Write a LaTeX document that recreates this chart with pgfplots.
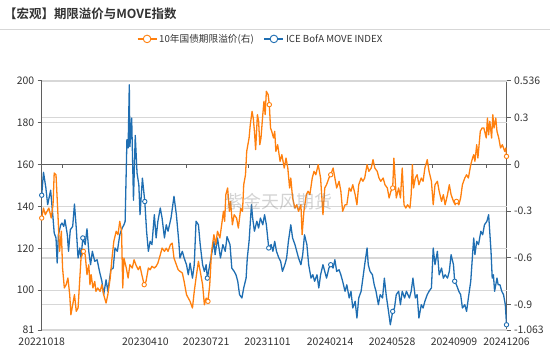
\documentclass[border=0pt]{standalone}
\usepackage{fontspec}
\setmainfont{Noto Sans CJK SC}[BoldFont={Noto Sans CJK SC Bold}]
\usepackage{pgfplots}
\pgfplotsset{compat=1.18}
\definecolor{cblue}{RGB}{31,110,178}
\definecolor{corange}{RGB}{255,128,14}
\definecolor{axgray}{RGB}{95,95,95}
\definecolor{gridgray}{RGB}{215,215,215}
\definecolor{txt}{RGB}{51,51,51}

\pgfplotstableread{
d v
0 145.4
3 156.4
7 148.9
10 140.9
15 147.8
19 134.5
21 127.3
24 125
26 113
28 126.5
32 131.3
34 132.1
37 130.5
39 133.7
43 126.5
45 118.6
48 128.9
52 130.5
55 141.2
58 129.7
61 115.4
64 120.2
66 115.4
69 125
73 121.8
76 129.4
79 118.6
82 112.2
85 118.6
89 113.8
93 114.6
97 109
101 104.3
104 97.9
108 105
111 99.5
116 109.8
120 110.6
123 120.2
127 118.6
131 126.5
135 129.7
138 131.3
140 132.9
143 172
145 168
147 198.2
148 168.6
151 182.3
154 143
157 174
160 156
163 150.4
165 136.1
169 153.6
173 142.4
176 128.2
179 118.6
182 123.4
185 121.8
189 136.1
192 125
195 133
199 139.3
202 134.5
206 125
209 131.3
212 128.2
217 134.5
222 144.9
226 136.1
230 123.4
232 115.4
236 118.6
239 115.4
243 112.2
246 107.4
249 113
253 105.8
256 112.2
259 133
263 131.3
266 121.8
270 112.2
273 109
276 112.2
278 105.8
282 112.2
286 118.6
289 123.4
291 117
295 125
300 115.4
304 121.8
308 118.6
311 125.6
316 121.8
319 110.6
323 109
326 107.4
329 104.3
332 97.9
336 96.3
339 101.1
343 105.8
345 115.4
348 123.4
352 140.9
354 134.5
357 128.2
361 133
364 129.7
367 134.5
371 131.3
374 136.1
377 131.3
381 120.2
385 121.8
388 118.6
391 123.4
394 118.6
398 115.4
401 113.8
404 109
408 112.2
411 115.4
414 123.4
418 131.3
421 125
425 121.8
428 118.6
431 115.4
435 112.2
438 117
441 126.5
445 121.8
448 112.2
452 105.8
455 107.4
458 104.3
462 107.4
465 101.1
468 107.4
472 112.2
475 109
478 105.8
482 110.6
485 112.2
489 110.6
492 114.6
495 109
499 109.8
502 107.4
505 104.3
509 99.5
512 102.6
516 96.3
519 99.5
522 91.5
526 94.7
529 86.7
532 96.3
536 99.5
539 105.8
542 112.2
546 120.2
548 112.2
551 109
555 107.4
558 102.6
561 99.5
565 93.1
568 97.9
572 96.3
575 105.8
578 97.9
582 89.9
585 83.5
589 89.9
592 91.5
595 97.9
599 99.5
602 93.1
605 99.5
609 96.3
612 99.5
617 96.3
620 99.5
623 105.8
627 96.3
630 97.9
633 86.7
637 93.1
640 91.5
643 94.7
647 97.9
650 99.5
654 101.1
657 120.2
660 112.2
664 118.6
667 107.4
671 110.6
674 105.8
677 107.4
681 105.8
684 109
687 117
691 112.2
693 104.3
696 102.6
700 99.5
703 97.9
706 91.5
710 93.1
713 89.9
716 96.3
720 104.3
723 117
725 125
727 117
730 123.4
733 121.8
737 128.2
740 126.5
743 131.3
747 132.9
750 136.1
754 118.6
756 105.8
758 107.4
760 99.5
764 105.8
766 102.6
769 102.6
772 99.5
775 97.9
778 93.1
780 83.5
}\movetable

\pgfplotstableread{
d v
0 -0.344
3 -0.280
6 -0.323
9 -0.301
12 -0.280
16 -0.344
19 -0.259
21 -0.055
24 -0.066
27 -0.301
30 -0.558
33 -0.429
35 -0.665
38 -0.793
41 -0.772
44 -0.729
47 -0.836
49 -0.965
52 -0.901
55 -0.836
58 -0.943
61 -0.922
64 -0.729
66 -0.601
70 -0.558
73 -0.580
76 -0.708
79 -0.644
81 -0.772
83 -0.708
86 -0.793
89 -0.751
91 -0.815
94 -0.793
98 -0.815
101 -0.772
104 -0.836
108 -0.890
111 -0.836
115 -0.729
118 -0.601
121 -0.494
125 -0.429
128 -0.451
131 -0.365
134 -0.429
136 -0.793
138 -0.601
142 -0.665
145 -0.729
148 -0.644
152 -0.665
155 -0.612
158 -0.644
162 -0.676
165 -0.654
168 -0.708
172 -0.772
175 -0.751
179 -0.665
182 -0.676
185 -0.654
189 -0.665
192 -0.654
195 -0.633
199 -0.580
202 -0.537
206 -0.558
209 -0.538
212 -0.558
216 -0.515
219 -0.505
222 -0.601
226 -0.644
229 -0.676
232 -0.686
236 -0.697
239 -0.751
243 -0.836
246 -0.858
249 -0.879
253 -0.922
256 -0.815
259 -0.729
263 -0.622
266 -0.686
270 -0.772
273 -0.901
276 -0.858
279 -0.879
282 -0.772
285 -0.558
289 -0.451
292 -0.515
295 -0.429
299 -0.472
302 -0.387
305 -0.301
307 -0.365
309 -0.194
312 -0.151
315 -0.301
317 -0.237
320 -0.387
323 -0.323
327 -0.344
330 -0.408
334 -0.280
337 -0.301
339 -0.130
342 -0.066
344 0.084
346 0.127
348 0.170
350 0.255
353 0.341
355 0.298
357 0.213
359 0.095
362 0.320
364 0.277
366 0.127
368 0.170
371 0.320
373 0.406
375 0.320
377 0.470
380 0.448
382 0.384
384 0.234
386 0.213
389 0.170
391 0.213
393 0.084
396 0.127
400 0.020
403 0.063
407 -0.023
410 0.041
413 -0.023
416 -0.151
418 -0.087
421 -0.215
425 -0.280
428 -0.259
431 -0.301
435 -0.259
437 -0.451
440 -0.301
444 -0.194
447 -0.172
450 -0.194
454 -0.087
457 -0.044
460 -0.066
464 -0.001
468 -0.087
472 -0.323
475 -0.151
478 -0.130
482 -0.087
485 -0.066
489 -0.023
492 -0.087
495 -0.151
499 -0.108
502 -0.172
505 -0.301
509 -0.259
512 -0.259
516 -0.151
519 -0.172
522 -0.130
526 -0.194
529 -0.259
532 -0.130
536 -0.087
539 -0.108
542 -0.087
546 -0.001
549 -0.044
553 -0.023
556 0.031
559 -0.023
563 -0.044
566 -0.087
569 -0.108
573 -0.087
576 -0.130
580 -0.151
583 -0.215
586 -0.172
589 -0.151
591 0.041
593 -0.087
595 -0.215
599 -0.151
602 -0.215
605 -0.023
608 -0.259
611 -0.280
614 -0.259
618 -0.280
620 -0.194
622 -0.001
624 -0.151
627 -0.087
630 -0.066
633 -0.130
637 -0.087
640 -0.108
643 -0.023
647 0.031
650 -0.044
654 -0.108
657 -0.259
660 -0.130
664 -0.108
667 -0.172
671 -0.237
674 -0.194
677 -0.259
681 -0.194
684 -0.130
687 -0.194
691 -0.237
694 -0.259
696 -0.237
700 -0.259
703 -0.215
706 -0.130
710 -0.087
713 -0.066
716 -0.087
720 -0.001
723 0.041
725 0.063
727 0.020
730 0.127
732 0.041
736 0.213
739 0.234
742 0.234
746 0.170
748 0.298
750 0.191
752 0.277
755 0.170
757 0.320
759 0.234
762 0.298
764 0.213
767 0.170
770 0.106
773 0.127
777 0.084
779 0.106
780 0.052
}\tptable

\pgfplotsset{base/.style={scale only axis, width=464.8bp, height=249bp,
  at={(41.7bp,22bp)}, anchor=south west, xmin=0, xmax=780,
  ticklabel style={font=\fontsize{10.5}{12}\selectfont, text=txt},
  /pgf/number format/assume math mode=true}}

\begin{document}
\begin{tikzpicture}[x=1bp,y=1bp]
\path[use as bounding box] (0,0) rectangle (550,352);
\node[anchor=west, font=\bfseries\fontsize{12.5}{14}\selectfont, text=txt, inner sep=0] at (4,338) {【宏观】期限溢价与MOVE指数};
\draw[gridgray, line width=1.5bp] (0,322.5) -- (550,322.5);

% right-scale grid and axis
\begin{axis}[base, ymin=-1.063, ymax=0.536,
  axis x line=none, axis y line*=right,
  axis line style={-, draw=axgray, line width=1.2bp},
  ytick={-1.063,-0.9,-0.6,-0.3,0,0.3,0.536},
  yticklabels={-1.063,-0.9,-0.6,-0.3,0,0.3,0.536},
  tick align=outside, major tick length=4bp,
  ytick style={draw=axgray, line width=1bp},
  ymajorgrids, major grid style={gridgray, line width=1.2bp}]
\addplot[draw=none] coordinates {(0,0)};
\end{axis}

% left-scale axis with MOVE
\begin{axis}[base, ymin=81, ymax=200,
  axis x line*=bottom, axis y line*=left,
  axis line style={-},
  x axis line style={draw=none},
  y axis line style={draw=axgray, line width=1.2bp},
  xtick={0,174,276,379,484,588,692,780},
  xticklabels={20221018,20230410,20230721,20231101,20240214,20240528,20240909,20241206},
  xtick style={draw=none},
  ytick={81,100,120,140,180,200},
  yticklabels={81,100,120,140,180,200},
  extra y ticks={160}, extra y tick labels={160},
  extra y tick style={ymajorgrids=true, major grid style={draw=axgray, line width=1.2bp}},
  tick align=outside, major tick length=4bp,
  ytick style={draw=axgray, line width=1bp},
  ymajorgrids, major grid style={gridgray, line width=1.2bp}]
\foreach \t in {34.6,242.2,346.5,449,656.2,746.8} {
  \edef\tmp{\noexpand\draw[axgray, line width=1bp] (axis cs:\t,160) -- ([yshift=-3.5bp]axis cs:\t,160);}\tmp
}
\addplot[cblue, line width=1.3bp, line join=round] table[x=d,y=v] {\movetable};
\addplot[only marks, mark=*, mark size=2.2bp, mark options={draw=cblue, fill=white, line width=0.9bp}, forget plot] coordinates {
(0,145.4) (69,125) (173,142.4) (278,105.8) (381,120.2) (485,112.2) (589,89.9) (693,104.3) (780,83.5)};
\end{axis}

% right-scale data + legend
\begin{axis}[base, ymin=-1.063, ymax=0.536, hide axis,
  legend columns=2,
  legend style={draw=none, fill=none, font=\fontsize{9.7}{11}\selectfont, text=txt,
    at={(0.471,1.169)}, anchor=center,
    /tikz/every even column/.append style={column sep=8bp}},
  legend image code/.code={\draw[#1] (0bp,0bp) -- (19bp,0bp);
    \draw[#1, fill=white, line width=0.9bp] (9.5bp,0bp) circle (3.8bp);}]
\addplot[corange, line width=1.3bp, line join=round] table[x=d,y=v] {\tptable};
\addlegendentry{10年国债期限溢价(右)}
\addlegendimage{cblue, line width=1.3bp}
\addlegendentry{ICE BofA MOVE INDEX}
\addplot[only marks, mark=*, mark size=2.2bp, mark options={draw=corange, fill=white, line width=0.9bp}, forget plot] coordinates {
(0,-0.344) (70,-0.558) (172,-0.772) (279,-0.879) (382,0.384) (485,-0.066) (589,-0.151) (696,-0.237) (780,0.052)};
\end{axis}

\node[text=gray, opacity=0.35, font=\fontsize{18}{20}\selectfont] at (279,150) {紫金天风期货};
\end{tikzpicture}
\end{document}
